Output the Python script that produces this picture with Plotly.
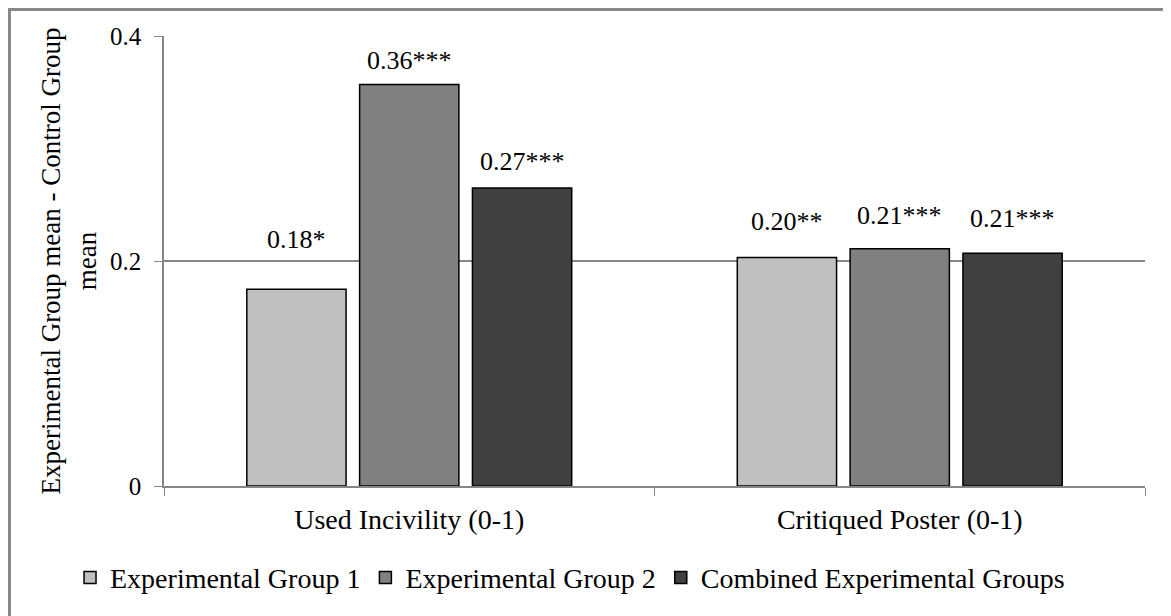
import plotly.graph_objects as go

categories = ['Used Incivility (0-1)', 'Critiqued Poster (0-1)']
series_names = ['Experimental Group 1', 'Experimental Group 2', 'Combined Experimental Groups']
series_values = [
    [0.175, 0.203],
    [0.357, 0.211],
    [0.265, 0.207],
]
series_labels = [
    ['0.18*', '0.20**'],
    ['0.36***', '0.21***'],
    ['0.27***', '0.21***'],
]
colors = ['#C0C0C0', '#808080', '#404040']
# labels were hand placed in the original, so lift each one a bit differently
label_lift = [
    [33, 20],
    [7, 17],
    [10, 18],
]

FONT = 'Liberation Serif'
W, H = 1163, 608          # page adds an 8px body margin
ML, MR, MT, MB = 156, 26, 28, 130
BARGAP, GROUPGAP = 0.31, 0.12

fig = go.Figure()
for name, vals, col in zip(series_names, series_values, colors):
    fig.add_trace(go.Bar(
        x=categories, y=vals, name=name,
        marker=dict(color=col, line=dict(color='black', width=1.5)),
    ))

# bar value labels, shifted sideways onto their bar within the group
cat_px = (W - ML - MR) / len(categories)
slot_px = cat_px * (1 - BARGAP) / len(series_names)
annotations = []
for i, (vals, labels) in enumerate(zip(series_values, series_labels)):
    for j, cat in enumerate(categories):
        annotations.append(dict(
            x=cat, y=vals[j], text=labels[j], showarrow=False,
            xshift=(i - 1) * slot_px, yshift=label_lift[i][j], yanchor='bottom',
            font=dict(family=FONT, size=26, color='black'),
        ))

fig.update_layout(
    width=W, height=H,
    margin=dict(l=ML, r=MR, t=MT, b=MB, autoexpand=False),
    paper_bgcolor='white', plot_bgcolor='white',
    font=dict(family=FONT, size=26, color='black'),
    barmode='group', bargap=BARGAP, bargroupgap=GROUPGAP,
    showlegend=True,
    legend=dict(orientation='h', x=-0.0958, xanchor='left', y=-0.204, yanchor='middle',
                font=dict(family=FONT, size=28), itemwidth=30, traceorder='normal'),
    annotations=annotations,
    # outer frame of the chart
    shapes=[dict(type='rect', xref='paper', yref='paper', x0=-0.1575, x1=1.05, y0=-0.5, y1=1.0589,
                 line=dict(color='#888888', width=3))],
)

fig.update_xaxes(
    showline=True, linecolor='#868686', linewidth=1.5,
    ticks='outside', tickson='boundaries', ticklen=8, tickcolor='#868686',
    tickfont=dict(family=FONT, size=28), ticklabelstandoff=8,
    showgrid=False,
)
fig.update_yaxes(
    range=[0, 0.4], tickvals=[0, 0.2, 0.4], ticktext=['0', '0.2', '0.4'],
    showline=True, linecolor='#868686', linewidth=1.5,
    ticks='outside', ticklen=8, tickcolor='#868686',
    tickfont=dict(family=FONT, size=25), ticklabelstandoff=8,
    showgrid=True, gridcolor='#868686', gridwidth=1.5, zeroline=False,
    title=dict(text='Experimental Group mean - Control Group<br>mean', standoff=6,
               font=dict(family=FONT, size=27)),
)

fig.write_html('out.html')
